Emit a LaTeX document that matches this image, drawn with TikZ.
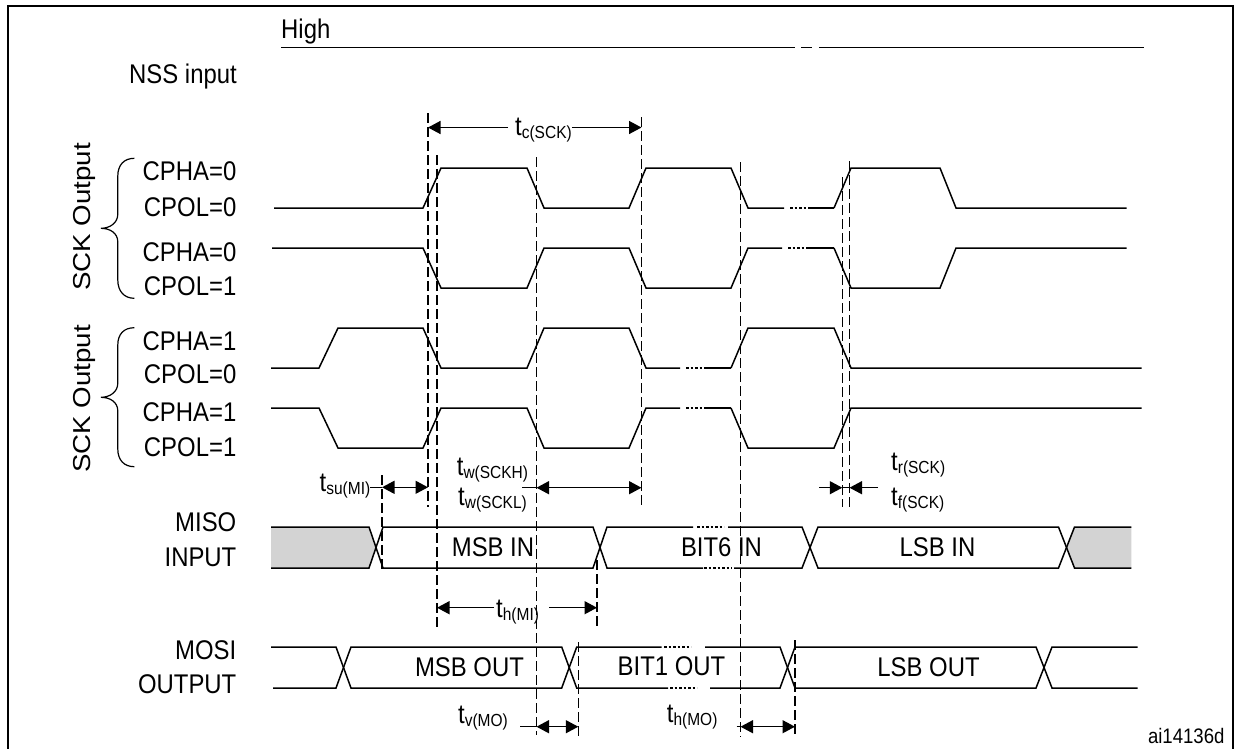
\documentclass[tikz,border=0pt]{standalone}
\usepackage{fontspec}
\setmainfont{Liberation Sans}
\newfontfamily\hf{Liberation Sans}[FakeStretch=0.885]
\newfontfamily\vf{Liberation Sans}[FakeStretch=1.13]
\usetikzlibrary{arrows.meta}
\definecolor{misogray}{RGB}{211,211,211}
\newcommand\tsub[1]{\raisebox{-3.5pt}{\fontsize{17.5}{18}\selectfont #1}}
\begin{document}
\begin{tikzpicture}[x=1pt,y=-1pt,line join=miter,
  wave/.style={line width=1.5pt},
  thick seg/.style={line width=2pt},
  dotseg/.style={line width=1.5pt,dash pattern=on 2.5pt off 2pt},
  guide/.style={line width=1.1pt,dash pattern=on 10pt off 4pt},
  dim/.style={line width=1.4pt},
  tipend/.style={-{Triangle[length=12.5pt,width=13pt]}},
  tipboth/.style={{Triangle[length=12.5pt,width=13pt]}-{Triangle[length=12.5pt,width=13pt]}},
  lbl/.style={font=\hf\fontsize{27}{30}\selectfont,inner sep=0pt},
  vlbl/.style={font=\vf\fontsize{24.5}{26}\selectfont,inner sep=0pt,rotate=90,anchor=base}]
\useasboundingbox (0,0) rectangle (1236,748);
% frame
\draw[line width=2pt] (7.5,760) -- (7.5,6.3) -- (1232.5,6.3) -- (1232.5,760);

% NSS
\node[lbl,anchor=base west] (high) at (281,38.3) {High};
\node[lbl,anchor=base east] (nss) at (237,83.3) {NSS input};
\draw[wave] (281,47.7) -- (795,47.7) (801,47.7) -- (812,47.7) (819,47.7) -- (1143.6,47.7);

% side labels
\node[vlbl] (sck1) at (90.5,217) {SCK Output};
\node[vlbl] (sck2) at (90.5,399) {SCK Output};
\draw[line width=1.2pt] (134.4,158.3) .. controls (124,158.3) and (117.8,165) .. (117.8,176) -- (117.8,214)
  .. controls (117.8,223) and (110,228.3) .. (100.8,228.3)
  .. controls (110,228.3) and (117.8,233) .. (117.8,242) -- (117.8,280)
  .. controls (117.8,291) and (124,298.3) .. (134.4,298.3);
\draw[line width=1.2pt] (134.4,327.7) .. controls (124,327.7) and (117.8,334) .. (117.8,345) -- (117.8,383)
  .. controls (117.8,392) and (110,397.3) .. (100.8,397.3)
  .. controls (110,397.3) and (117.8,402) .. (117.8,411) -- (117.8,449)
  .. controls (117.8,460) and (124,466.7) .. (134.4,466.7);

\node[lbl,anchor=base east] (r1a) at (236.5,180) {CPHA=0};
\node[lbl,anchor=base east] (r1b) at (236.5,216) {CPOL=0};
\node[lbl,anchor=base east] (r2a) at (236.5,261.7) {CPHA=0};
\node[lbl,anchor=base east] (r2b) at (236.5,295) {CPOL=1};
\node[lbl,anchor=base east] (r3a) at (236.5,350) {CPHA=1};
\node[lbl,anchor=base east] (r3b) at (236.5,383) {CPOL=0};
\node[lbl,anchor=base east] (r4a) at (236.5,421.7) {CPHA=1};
\node[lbl,anchor=base east] (r4b) at (236.5,456) {CPOL=1};

\node[lbl,anchor=base east] (misoa) at (236.5,531.7) {MISO};
\node[lbl,anchor=base east] (misob) at (236.5,566) {INPUT};
\node[lbl,anchor=base east] (mosia) at (236.5,659.3) {MOSI};
\node[lbl,anchor=base east] (mosib) at (236.5,693.3) {OUTPUT};

% SCK rows
\draw[wave] (274,208) -- (423,208) -- (441,168) -- (527,168) -- (544,208) -- (629,208) -- (646,168) -- (731,168) -- (748,208) -- (784,208);
\draw[dotseg] (790,208) -- (808,208);
\draw[thick seg] (808,208) -- (834,208);
\draw[wave] (834,208) -- (851,168) -- (940,168) -- (956,208) -- (1126.6,208);

\draw[wave] (272,248) -- (423,248) -- (441,288) -- (527,288) -- (544,248) -- (629,248) -- (646,288) -- (731,288) -- (748,248) -- (782,248);
\draw[dotseg] (788,248) -- (808,248);
\draw[thick seg] (808,248) -- (834,248);
\draw[wave] (834,248) -- (851,288) -- (940,288) -- (956,248) -- (1126.6,248);

\draw[wave] (271,368) -- (319,368) -- (338,328) -- (423,328) -- (441,368) -- (527,368) -- (544,328) -- (629,328) -- (646,368) -- (680,368);
\draw[dotseg] (686,368) -- (705,368);
\draw[thick seg] (705,368) -- (731,368);
\draw[wave] (731,368) -- (748,328) -- (834,328) -- (851,368) -- (1141.6,368);

\draw[wave] (271,408) -- (319,408) -- (338,448) -- (423,448) -- (441,408) -- (527,408) -- (544,448) -- (629,448) -- (646,408) -- (680,408);
\draw[dotseg] (686,408) -- (705,408);
\draw[thick seg] (705,408) -- (731,408);
\draw[wave] (731,408) -- (748,448) -- (834,448) -- (851,408) -- (1141.6,408);

% MISO
\fill[misogray] (271,527) -- (369,527) -- (376,547.5) -- (369,568) -- (271,568) -- cycle;
\fill[misogray] (1066.5,547.5) -- (1074.5,527) -- (1131.4,527) -- (1131.4,568) -- (1074.5,568) -- cycle;
\draw[wave] (271,527) -- (369,527) -- (383,568) -- (593,568) -- (607,527) -- (693,527);
\draw[wave] (271,568) -- (369,568) -- (383,527) -- (593,527) -- (607,568) -- (703,568);
\draw[dotseg] (697,527) -- (724,527);
\draw[dotseg] (704,568) -- (732,568);
\draw[wave] (728,527) -- (802,527) -- (818,568) -- (1058.5,568) -- (1074.5,527) -- (1131.4,527);
\draw[wave] (734,568) -- (802,568) -- (818,527) -- (1058.5,527) -- (1074.5,568) -- (1131.4,568);
\node[lbl,anchor=base] (msbin) at (493,556.7) {MSB IN};
\node[lbl,anchor=base] (bit6) at (721.5,556.7) {BIT6 IN};
\node[lbl,anchor=base] (lsbin) at (937.5,556.7) {LSB IN};

% MOSI
\draw[wave] (271,647) -- (336,647) -- (351,688) -- (561.7,688) -- (576.7,647) -- (661.7,647);
\draw[wave] (273,688) -- (336,688) -- (351,647) -- (561.7,647) -- (576.7,688) -- (668,688);
\draw[dotseg] (664,647) -- (691,647);
\draw[dotseg] (670,688) -- (697,688);
\draw[wave] (705,647) -- (780,647) -- (795,688) -- (1036,688) -- (1052,647) -- (1137.5,647);
\draw[wave] (710,688) -- (780,688) -- (795,647) -- (1036,647) -- (1052,688) -- (1137.5,688);
\node[lbl,anchor=base] (msbout) at (469.5,676) {MSB OUT};
\node[lbl,anchor=base] (bit1) at (671.5,675) {BIT1 OUT};
\node[lbl,anchor=base] (lsbout) at (928.5,676) {LSB OUT};

% guide lines
\draw[guide] (382,475) -- (382,572);
\draw[guide] (428,113) -- (428,507);
\draw[guide] (437,155) -- (437,630);
\draw[guide] (536.5,157) -- (536.5,735);
\draw[guide] (641.5,117) -- (641.5,507);
\draw[guide] (597,560) -- (597,627);
\draw[guide] (740.5,162) -- (740.5,737);
\draw[guide] (842.3,177) -- (842.3,507);
\draw[guide] (849.5,161) -- (849.5,507);
\draw[guide] (578.3,642) -- (578.3,737);
\draw[guide] (795,640) -- (795,735);

% t_c(SCK)
\coordinate (tcL) at (428,127.5);
\coordinate (tcR) at (641.5,127.5);
\node[lbl,anchor=base west] (tc) at (515,135) {t\tsub{c(SCK)}};
\draw[dim,tipend] ([xshift=-7pt]tc.west |- tcL) -- (tcL);
\draw[dim,tipend] (tc.east |- tcR) -- (tcR);

% t_su(MI)
\node[lbl,anchor=base west] (tsu) at (319.5,491) {t\tsub{su(MI)}};
\coordinate (su1) at (382,487.3);
\coordinate (su2) at (428,487.3);
\draw[dim] (tsu.east |- su1) -- (su1);
\draw[dim,tipboth] (su1) -- (su2);

% t_w
\node[lbl,anchor=base west] (twh) at (456.7,475) {t\tsub{w(SCKH)}};
\node[lbl,anchor=base west] (twl) at (458,505) {t\tsub{w(SCKL)}};
\coordinate (tw0) at (522,487.7);
\coordinate (tw1) at (536.5,487.7);
\coordinate (tw2) at (641.5,487.7);
\draw[dim] (tw0) -- (tw1);
\draw[dim,tipboth] (tw1) -- (tw2);

% t_r / t_f
\coordinate (tr0) at (819,487.7);
\coordinate (tr1) at (842.3,487.7);
\coordinate (tf1) at (849.5,487.7);
\coordinate (tf0) at (878,487.7);
\draw[dim,tipend] (tr0) -- (tr1);
\draw[dim,tipend] (tf0) -- (tf1);
\draw[dim] (tr1) -- (tf1);
\node[lbl,anchor=base west] (trs) at (891,470) {t\tsub{r(SCK)}};
\node[lbl,anchor=base west] (tfs) at (891,505) {t\tsub{f(SCK)}};

% t_h(MI)
\node[lbl,anchor=base west] (thmi) at (496,617) {t\tsub{h(MI)}};
\coordinate (hm1) at (437,607.7);
\coordinate (hm2) at (597,607.7);
\draw[dim,tipend] ([xshift=-2pt]thmi.west |- hm1) -- (hm1);
\draw[dim,tipend] ([xshift=10pt]thmi.east |- hm2) -- (hm2);

% t_v(MO)
\node[lbl,anchor=base west] (tvmo) at (458,723) {t\tsub{v(MO)}};
\coordinate (tv0) at (520,726.7);
\coordinate (tv1) at (536.5,726.7);
\coordinate (tv2) at (578.3,726.7);
\draw[dim] (tv0) -- (tv1);
\draw[dim,tipboth] (tv1) -- (tv2);

% t_h(MO)
\node[lbl,anchor=base west] (thmo) at (666.7,722) {t\tsub{h(MO)}};
\coordinate (ho0) at (736.5,726.7);
\coordinate (ho1) at (740.5,726.7);
\coordinate (ho2) at (795,726.7);
\draw[dim] (ho0) -- (ho1);
\draw[dim,tipboth] (ho1) -- (ho2);

\node[font=\hf\fontsize{21}{22}\selectfont,inner sep=0pt,anchor=base east] (ref) at (1224.7,743) {ai14136d};
\end{tikzpicture}
\end{document}
